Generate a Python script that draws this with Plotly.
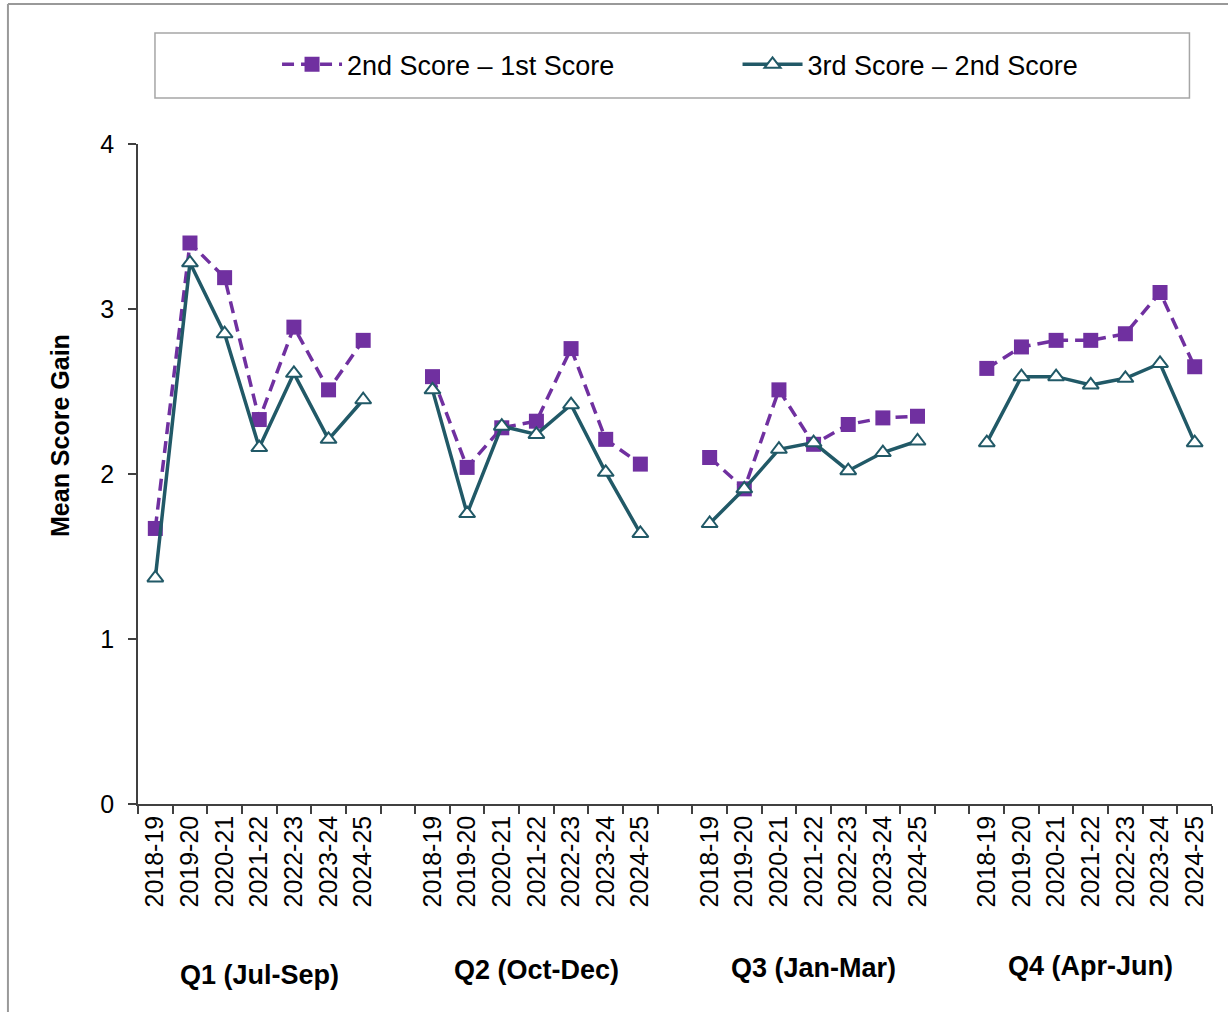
import plotly.graph_objects as go

# Academic years shown within each quarter
years = ["2018-19", "2019-20", "2020-21", "2021-22", "2022-23", "2023-24", "2024-25"]
quarters = ["Q1 (Jul-Sep)", "Q2 (Oct-Dec)", "Q3 (Jan-Mar)", "Q4 (Apr-Jun)"]

# Mean score gain, 2nd score minus 1st score, per quarter
gain_2_1_q1 = [1.67, 3.40, 3.19, 2.33, 2.89, 2.51, 2.81]
gain_2_1_q2 = [2.59, 2.04, 2.28, 2.32, 2.76, 2.21, 2.06]
gain_2_1_q3 = [2.10, 1.91, 2.51, 2.18, 2.30, 2.34, 2.35]
gain_2_1_q4 = [2.64, 2.77, 2.81, 2.81, 2.85, 3.10, 2.65]

# Mean score gain, 3rd score minus 2nd score, per quarter
gain_3_2_q1 = [1.37, 3.28, 2.85, 2.16, 2.61, 2.21, 2.45]
gain_3_2_q2 = [2.51, 1.76, 2.29, 2.24, 2.42, 2.01, 1.64]
gain_3_2_q3 = [1.70, 1.91, 2.15, 2.19, 2.02, 2.13, 2.20]
gain_3_2_q4 = [2.19, 2.59, 2.59, 2.54, 2.58, 2.67, 2.19]

series_a = [gain_2_1_q1, gain_2_1_q2, gain_2_1_q3, gain_2_1_q4]
series_b = [gain_3_2_q1, gain_3_2_q2, gain_3_2_q3, gain_3_2_q4]

PURPLE = "#7030A0"
TEAL = "#215967"
FONT = "Liberation Sans, Arial, sans-serif"

# Build one continuous x scale with an empty slot between quarters
slot = len(years) + 1
x_all, tick_text, y_a, y_b, group_centres = [], [], [], [], []
for q in range(len(quarters)):
    for i, yr in enumerate(years):
        x_all.append(q * slot + i)
        tick_text.append(yr)
        y_a.append(series_a[q][i])
        y_b.append(series_b[q][i])
    group_centres.append(q * slot + (len(years) - 1) / 2)
    if q < len(quarters) - 1:
        x_all.append(q * slot + len(years))
        tick_text.append("")
        y_a.append(None)
        y_b.append(None)

fig = go.Figure()
fig.add_trace(go.Scatter(
    x=x_all, y=y_a, mode="lines+markers", name="2nd Score \u2013 1st Score",
    connectgaps=False, legend="legend",
    line=dict(color=PURPLE, width=3.5, dash="12px,7px"),
    marker=dict(symbol="square", size=15, color=PURPLE, line=dict(width=0)),
))
fig.add_trace(go.Scatter(
    x=x_all, y=y_b, mode="lines+markers", name="3rd Score \u2013 2nd Score",
    connectgaps=False, legend="legend2",
    line=dict(color=TEAL, width=3.5),
    marker=dict(symbol="triangle-up", size=14, color="white",
                line=dict(color=TEAL, width=2)),
))

n = len(x_all)
fig.update_xaxes(
    range=[-0.5, n - 0.5], tickmode="array", tickvals=x_all, ticktext=tick_text,
    tickangle=-90, ticks="", showline=True, linecolor="#404040", linewidth=1.5,
    tickfont=dict(family=FONT, size=25, color="black"), showgrid=False,
    zeroline=False, ticklabelstandoff=0,
    minor=dict(tickmode="linear", tick0=-0.5, dtick=1, ticks="outside",
               ticklen=8, tickcolor="#404040", tickwidth=1.5, showgrid=False),
)
fig.update_yaxes(
    range=[0, 4], tickvals=[0, 1, 2, 3, 4], ticks="outside", ticklen=8,
    tickcolor="#404040", tickwidth=1.5, showline=True, linecolor="#404040",
    linewidth=1.5, showgrid=False, zeroline=False,
    tickfont=dict(family=FONT, size=25, color="black"), ticklabelstandoff=9,
)

annotations = [dict(
    text="<b>Mean Score Gain</b>", xref="paper", yref="paper", x=-0.0727, y=0.559,
    xanchor="center", yanchor="middle",
    textangle=-90, showarrow=False, font=dict(family=FONT, size=25, color="black"),
)]
group_label_y = [-0.259, -0.2515, -0.2485, -0.2455]
for q, label in enumerate(quarters):
    annotations.append(dict(
        text=f"<b>{label}</b>", xref="x", yref="paper", x=group_centres[q],
        y=group_label_y[q], xanchor="center", yanchor="middle", showarrow=False,
        font=dict(family=FONT, size=27, color="black"),
    ))

shapes = [
    # legend frame
    dict(type="rect", xref="paper", yref="paper", x0=0.0158, x1=0.979,
         y0=1.0697, y1=1.168, line=dict(color="#a6a6a6", width=1.5)),
    # chart-area border (left and top edges)
    dict(type="line", xref="paper", yref="paper", x0=-0.1211, x1=-0.1211,
         y0=1.2121, y1=-0.35, line=dict(color="#999999", width=2)),
    dict(type="line", xref="paper", yref="paper", x0=-0.1211, x1=1.05,
         y0=1.2121, y1=1.2121, line=dict(color="#999999", width=2)),
]

legend_style = dict(orientation="h", yanchor="middle", xanchor="left",
                    xref="container", yref="container",
                    font=dict(family=FONT, size=27, color="black"),
                    bgcolor="rgba(0,0,0,0)", borderwidth=0, itemwidth=60)

fig.update_layout(
    width=1228, height=1012,
    margin=dict(l=138, r=16, t=144, b=208),
    paper_bgcolor="white", plot_bgcolor="white",
    font=dict(family=FONT, color="black"),
    showlegend=True,
    legend=dict(legend_style, x=0.2256, y=0.936),
    legend2=dict(legend_style, x=0.6006, y=0.936),
    annotations=annotations, shapes=shapes,
)

fig.write_html("out.html")
